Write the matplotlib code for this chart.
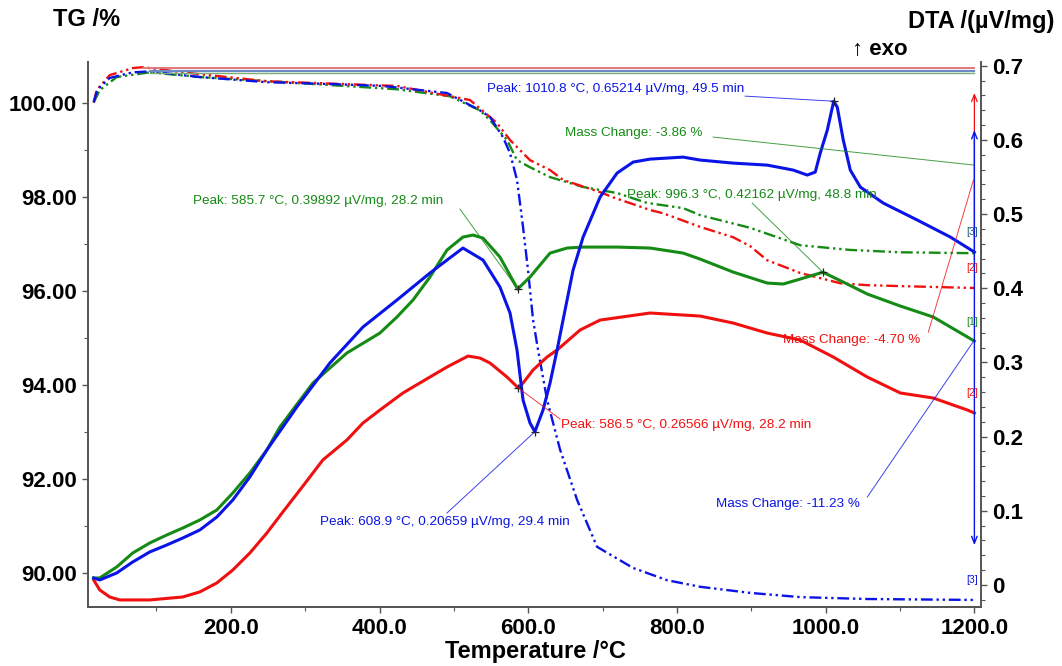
import matplotlib.pyplot as plt
from matplotlib.ticker import MultipleLocator, FuncFormatter

plt.rcParams['font.family'] = ['Liberation Sans', 'DejaVu Sans']

# ---- DTA curves (µV/mg) ----
t_dta_red = [15.6, 23.7, 37.1, 50.6, 91.0, 135.4, 158.3, 181.2, 202.7, 225.6, 248.5, 270.0,
             292.9, 323.8, 356.1, 377.7, 400.5, 431.5, 445.0, 467.8, 490.7, 519.0, 535.1,
             548.6, 571.5, 586.5, 593.0, 606.5, 625.3, 638.8, 669.7, 696.6, 763.9, 831.2,
             875.6, 921.4, 965.8, 1010.2, 1056.0, 1100.4, 1144.8, 1190.6, 1200.0]
dta_red = [0.0067, -0.0067, -0.0162, -0.0202, -0.0202, -0.0162, -0.0094, 0.0027, 0.0202,
           0.0431, 0.0701, 0.0984, 0.128, 0.1685, 0.1954, 0.2183, 0.2358, 0.2588, 0.2668,
           0.2803, 0.2938, 0.3086, 0.3059, 0.2992, 0.2803, 0.26566, 0.2722, 0.2898, 0.3073,
           0.3167, 0.3437, 0.3571, 0.3666, 0.3625, 0.3531, 0.3396, 0.3302, 0.3073, 0.2803,
           0.2588, 0.252, 0.2358, 0.2318]

t_dta_green = [15.6, 23.7, 46.6, 68.1, 91.0, 113.9, 135.4, 158.3, 181.2, 202.7, 225.6, 248.5,
               266.0, 310.4, 356.1, 400.5, 423.4, 445.0, 467.8, 490.7, 512.2, 525.7, 539.2,
               562.0, 585.7, 602.4, 629.3, 652.2, 673.8, 719.5, 763.9, 808.3, 831.2, 875.6,
               921.4, 942.9, 965.8, 996.3, 1023.7, 1056.0, 1100.4, 1144.8, 1200.0]
dta_green = [0.0094, 0.0094, 0.0243, 0.0431, 0.0566, 0.0674, 0.0768, 0.0876, 0.1011, 0.124,
             0.151, 0.182, 0.2129, 0.2722, 0.3127, 0.3396, 0.3612, 0.3841, 0.4151, 0.4515,
             0.469, 0.4717, 0.4676, 0.442, 0.39892, 0.4151, 0.4474, 0.4542, 0.4555, 0.4555,
             0.4542, 0.4474, 0.4393, 0.4218, 0.407, 0.4057, 0.4124, 0.42162, 0.4083, 0.3922,
             0.376, 0.3612, 0.3288]

t_dta_blue = [15.6, 23.7, 46.6, 68.1, 91.0, 113.9, 135.4, 158.3, 181.2, 202.7, 225.6, 248.5,
              288.8, 333.2, 377.7, 423.4, 467.8, 490.7, 512.2, 539.2, 562.0, 575.5, 584.9,
              593.0, 602.4, 608.9, 619.9, 629.3, 638.8, 646.8, 660.3, 673.8, 696.6, 719.5,
              741.1, 763.9, 808.3, 831.2, 875.6, 921.4, 956.4, 975.2, 986.0, 992.7, 1002.2,
              1010.8, 1015.6, 1023.7, 1033.1, 1046.6, 1077.5, 1123.3, 1167.7, 1200.0]
dta_blue = [0.0094, 0.0067, 0.0162, 0.031, 0.0445, 0.0539, 0.0633, 0.0741, 0.0916, 0.1146,
            0.1456, 0.182, 0.2399, 0.2992, 0.3477, 0.3841, 0.4205, 0.438, 0.4542, 0.438,
            0.4016, 0.3666, 0.3167, 0.2493, 0.2183, 0.20659, 0.2358, 0.2722, 0.3167, 0.3571,
            0.4245, 0.469, 0.5229, 0.5553, 0.5701, 0.5741, 0.5768, 0.5728, 0.5687, 0.566,
            0.5593, 0.5526, 0.5566, 0.5822, 0.6132, 0.65214, 0.6442, 0.5997, 0.5593, 0.5364,
            0.5148, 0.4919, 0.469, 0.4488]

# ---- TG curves (%) ----
t_tg_red = [15.6, 19.6, 37.1, 68.1, 81.6, 135.4, 248.5, 423.4, 521.7, 558.0, 575.5, 602.4,
            629.3, 646.8, 696.6, 714.1, 763.9, 781.4, 831.2, 875.6, 898.5, 921.4, 965.8,
            1019.7, 1056.0, 1100.4, 1200.0]
tg_red = [100.01, 100.27, 100.59, 100.74, 100.76, 100.65, 100.46, 100.36, 100.06, 99.57,
          99.21, 98.78, 98.57, 98.36, 98.10, 97.99, 97.72, 97.65, 97.36, 97.14, 96.95, 96.65,
          96.38, 96.16, 96.12, 96.10, 96.06]

t_tg_green = [15.6, 23.7, 46.6, 91.0, 158.3, 292.9, 423.4, 494.8, 535.1, 548.6, 571.5, 584.9,
              602.4, 629.3, 673.8, 719.5, 759.9, 808.3, 831.2, 898.5, 965.8, 1033.1, 1100.4,
              1200.0]
tg_green = [100.01, 100.27, 100.55, 100.65, 100.55, 100.42, 100.29, 100.14, 99.84, 99.63,
            99.21, 98.78, 98.63, 98.42, 98.21, 98.08, 97.87, 97.76, 97.61, 97.34, 96.97,
            96.87, 96.82, 96.80]

t_tg_blue = [15.6, 19.6, 23.7, 37.1, 68.1, 91.0, 158.3, 248.5, 337.3, 404.6, 490.7, 535.1,
             548.6, 566.1, 575.5, 584.9, 593.0, 599.7, 606.5, 613.2, 625.3, 642.8, 665.7,
             692.6, 741.1, 786.8, 831.2, 898.5, 965.8, 1056.0, 1200.0]
tg_blue = [100.01, 100.23, 100.33, 100.53, 100.65, 100.67, 100.55, 100.44, 100.40, 100.36,
           100.21, 99.84, 99.70, 99.27, 98.93, 98.36, 97.36, 96.44, 95.38, 94.74, 93.68,
           92.62, 91.55, 90.55, 90.10, 89.84, 89.70, 89.57, 89.48, 89.44, 89.42]

# mass-change reference levels (start values)
tg_start = {'red': 100.75, 'blue': 100.67, 'green': 100.64}

RED = '#f01010'
GREEN = '#158a15'
BLUE = '#0a14e6'

fig = plt.figure(figsize=(10.62, 6.66), dpi=100)
ax = fig.add_axes([0.0829, 0.0886, 0.8409, 0.8183])
ax2 = ax.twinx()

# TG axis
ax.set_xlim(8, 1209)
ax.set_ylim(89.27, 100.87)
dashdotdot = (0, (5, 1.6, 1, 1.6, 1, 1.6))
ax.plot(t_tg_green, tg_green, color=GREEN, lw=1.7, ls=dashdotdot)
ax.plot(t_tg_red, tg_red, color=RED, lw=1.7, ls=dashdotdot)
ax.plot(t_tg_blue, tg_blue, color=BLUE, lw=1.7, ls=dashdotdot)
ax.plot([81.6, 1200], [tg_start['red']] * 2, color='#e07878', lw=1.4)
ax.plot([91.0, 1200], [tg_start['blue']] * 2, color='#6f88c8', lw=1.6)
ax.plot([91.0, 1200], [tg_start['green']] * 2, color='#78b078', lw=1.0)

# DTA axis
ax2.set_ylim(-0.0297, 0.705)
ax2.plot(t_dta_red, dta_red, color=RED, lw=2.2)
ax2.plot(t_dta_green, dta_green, color=GREEN, lw=2.2)
ax2.plot(t_dta_blue, dta_blue, color=BLUE, lw=2.2)

# peak markers
for t, v in [(586.5, 0.26566), (585.7, 0.39892), (608.9, 0.20659),
             (996.3, 0.42162), (1010.8, 0.65214)]:
    ax2.plot(t, v, marker='+', color='#222222', ms=6, mew=0.9)

# annotations: (text, colour, text pos, line start, line end)
notes = [
    ('Peak: 1010.8 °C, 0.65214 µV/mg, 49.5 min', BLUE, (544.6, 0.6685), (891.8, 0.659), (1010.8, 0.65214)),
    ('Mass Change: -3.86 %', GREEN, (649.5, 0.6092), (848.7, 0.6038), (1200, 0.566)),
    ('Peak: 585.7 °C, 0.39892 µV/mg, 28.2 min', GREEN, (148.9, 0.5175), (508.2, 0.5067), (585.7, 0.39892)),
    ('Peak: 996.3 °C, 0.42162 µV/mg, 48.8 min', GREEN, (733.0, 0.5256), (901.2, 0.5148), (996.3, 0.42162)),
    ('Mass Change: -4.70 %', RED, (942.9, 0.3302), (1138.1, 0.341), (1198.7, 0.5458)),
    ('Peak: 586.5 °C, 0.26566 µV/mg, 28.2 min', RED, (644.1, 0.2156), (642.8, 0.2237), (586.5, 0.26566)),
    ('Peak: 608.9 °C, 0.20659 µV/mg, 29.4 min', BLUE, (319.8, 0.0849), (490.7, 0.097), (608.9, 0.20659)),
    ('Mass Change: -11.23 %', BLUE, (852.8, 0.1092), (1056.0, 0.1186), (1200, 0.3302)),
]
for txt, col, pos, p0, p1 in notes:
    ax2.plot([p0[0], p1[0]], [p0[1], p1[1]], color=col, lw=0.7, alpha=0.8)
    ax2.text(pos[0], pos[1], txt, color=col, fontsize=9.7, ha='left', va='center')

# mass change arrows at the end of the run
ax2.annotate('', xy=(1200, 0.667), xytext=(1200, 0.435),
             arrowprops=dict(arrowstyle='->, head_length=0.5, head_width=0.2', color=RED, lw=0.9))
ax2.annotate('', xy=(1200, 0.617), xytext=(1200, 0.05),
             arrowprops=dict(arrowstyle='<->, head_length=0.5, head_width=0.2', color=BLUE, lw=1.0))
for lbl, col, y in [('[3]', '#1a5a7a', 0.469), ('[2]', RED, 0.42), ('[1]', GREEN, 0.348),
                    ('[2]', RED, 0.252), ('[3]', BLUE, 0.0)]:
    ax2.text(1197, y, lbl, color=col, fontsize=7.5, ha='center', va='bottom')

# ticks and spines
ax.yaxis.set_major_locator(MultipleLocator(2))
ax.yaxis.set_minor_locator(MultipleLocator(1))
ax.yaxis.set_major_formatter(FuncFormatter(lambda v, p: f'{v:.2f}'))
ax.xaxis.set_major_locator(MultipleLocator(200))
ax.xaxis.set_minor_locator(MultipleLocator(100))
ax.xaxis.set_major_formatter(FuncFormatter(lambda v, p: f'{v:.1f}'))
ax2.yaxis.set_major_locator(MultipleLocator(0.1))
ax2.yaxis.set_minor_locator(MultipleLocator(0.02))
ax2.yaxis.set_major_formatter(FuncFormatter(lambda v, p: f'{v:g}' if abs(v) > 1e-9 else '0'))

for a in (ax, ax2):
    a.spines['top'].set_visible(False)
    for s in a.spines.values():
        s.set_color('#555555')
        s.set_linewidth(1.4)
    a.tick_params(which='major', length=4, width=1, color='#555555',
                  labelsize=16, pad=4)
    a.tick_params(which='minor', length=3, width=0.8, color='#555555')
ax.spines['right'].set_visible(False)
ax2.spines['left'].set_visible(False)
for lab in ax.get_xticklabels() + ax.get_yticklabels() + ax2.get_yticklabels():
    lab.set_fontweight('bold')

fig.text(53 / 1062, 0.97, 'TG /%', fontsize=17, fontweight='bold', ha='left', va='center')
fig.text(1054 / 1062, 0.967, 'DTA /(µV/mg)', fontsize=17, fontweight='bold', ha='right', va='center')
fig.text(880 / 1062, 0.925, '↑ exo', fontsize=16, fontweight='bold', ha='center', va='center')
fig.text(0.5038, 0.0225, 'Temperature /°C', fontsize=17, fontweight='bold', ha='center', va='center')

fig.savefig('out.png', dpi=100)
